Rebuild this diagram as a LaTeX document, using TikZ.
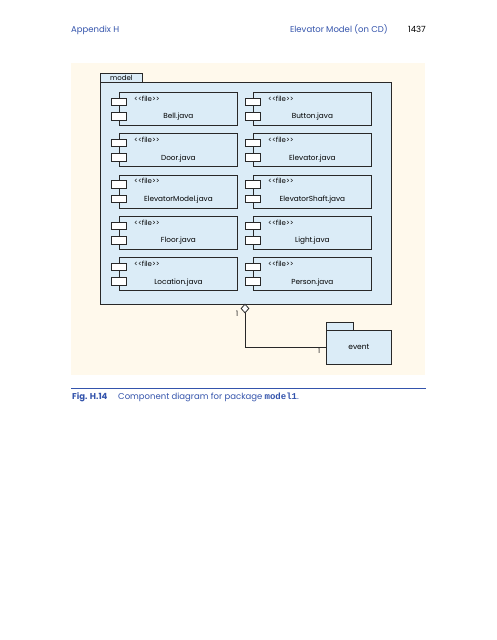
\documentclass[tikz,border=0pt]{standalone}
\usepackage{fontspec}
\setmainfont{Poppins}
\newfontfamily\capmono{Liberation Mono}
\usetikzlibrary{shapes.geometric}
\definecolor{cream}{RGB}{255,249,236}
\definecolor{pkgblue}{RGB}{219,236,247}
\definecolor{headblue}{RGB}{52,84,172}
\definecolor{linegray}{RGB}{40,40,40}
\tikzset{
  comp/.style={draw=linegray, line width=0.8pt, fill=pkgblue, minimum width=118pt, minimum height=33pt, anchor=north west, inner sep=0pt},
  port/.style={draw=linegray, line width=0.8pt, fill=white, minimum width=15pt, minimum height=7.5pt, inner sep=0pt},
  stereo/.style={font=\fontsize{7}{8}\selectfont, anchor=west, inner sep=0pt},
  cname/.style={font=\fontsize{7.3}{8}\selectfont, inner sep=0pt},
  pkg/.style={draw=linegray, line width=0.8pt, fill=pkgblue, inner sep=0pt},
  mult/.style={font=\fontsize{7.5}{8}\selectfont, inner sep=0pt, text=linegray},
  head/.style={font=\fontsize{8.5}{10}\selectfont, inner sep=0pt, anchor=base west},
}
\newcommand{\mycomp}[4]{%
  \node[comp] (#1) at (#2,#3) {};
  \node[port, anchor=north] (#1p1) at ([yshift=-5.5pt]#1.north west) {};
  \node[port, anchor=north] (#1p2) at ([yshift=-20pt]#1.north west) {};
  \node[stereo] (#1s) at ([xshift=15pt,yshift=-6.5pt]#1.north west) {<{}<file>{}>};
  \node[cname] (#1n) at ([yshift=-25pt]#1.north) {#4};
}
\begin{document}
\begin{tikzpicture}[x=1pt,y=-1pt]
\useasboundingbox (0,0) rectangle (497,640);
\fill[white] (0,0) rectangle (497,640);
% header
\node[head, text=headblue] (hl) at (71,32) {Appendix H};
\node[head, text=headblue, anchor=base east] (hr) at (388,32) {Elevator Model (on CD)};
\node[head, anchor=base east] (pg) at (426,32) {1437};
% background
\fill[cream] (71,63) rectangle (425,375);
% model package
\node[pkg, minimum width=42pt, minimum height=9pt, anchor=north west, font=\fontsize{7}{8}\selectfont] (mtab) at (100,73) {model};
\node[pkg, minimum width=291pt, minimum height=222pt, anchor=north west] (model) at (100,82) {};
% components
\mycomp{bell}{119}{92}{Bell.java}
\mycomp{button}{253}{92}{Button.java}
\mycomp{door}{119}{133.3}{Door.java}
\mycomp{elev}{253}{133.3}{Elevator.java}
\mycomp{emodel}{119}{174.6}{ElevatorModel.java}
\mycomp{eshaft}{253}{174.6}{ElevatorShaft.java}
\mycomp{floor}{119}{216}{Floor.java}
\mycomp{light}{253}{216}{Light.java}
\mycomp{loc}{119}{257.3}{Location.java}
\mycomp{person}{253}{257.3}{Person.java}
% event package
\node[pkg, minimum width=27pt, minimum height=8pt, anchor=north west] (etab) at (326,322) {};
\node[pkg, minimum width=65pt, minimum height=34pt, anchor=north west, font=\fontsize{7.5}{8}\selectfont] (event) at (326,330) {event};
% aggregation
\node[diamond, draw=linegray, line width=0.8pt, fill=white, minimum width=8pt, minimum height=9pt, inner sep=0pt] (dia) at (245,308.5) {};
\draw[linegray, line width=1pt] (dia.south) |- (event.west);
\node[mult] (m1) at (237,314) {1};
\node[mult] (m2) at (319,351) {1};
% caption
\draw[headblue, line width=0.9pt] (71,388) -- (426,388);
\node[head, text=headblue, font=\fontsize{8.5}{10}\selectfont\bfseries] (fig) at (72,399) {Fig. H.14};
\node[head, text=headblue] (cap) at (118,399) {Component diagram for package {\capmono\fontsize{9}{10}\selectfont\bfseries model1}.};
\end{tikzpicture}
\end{document}
